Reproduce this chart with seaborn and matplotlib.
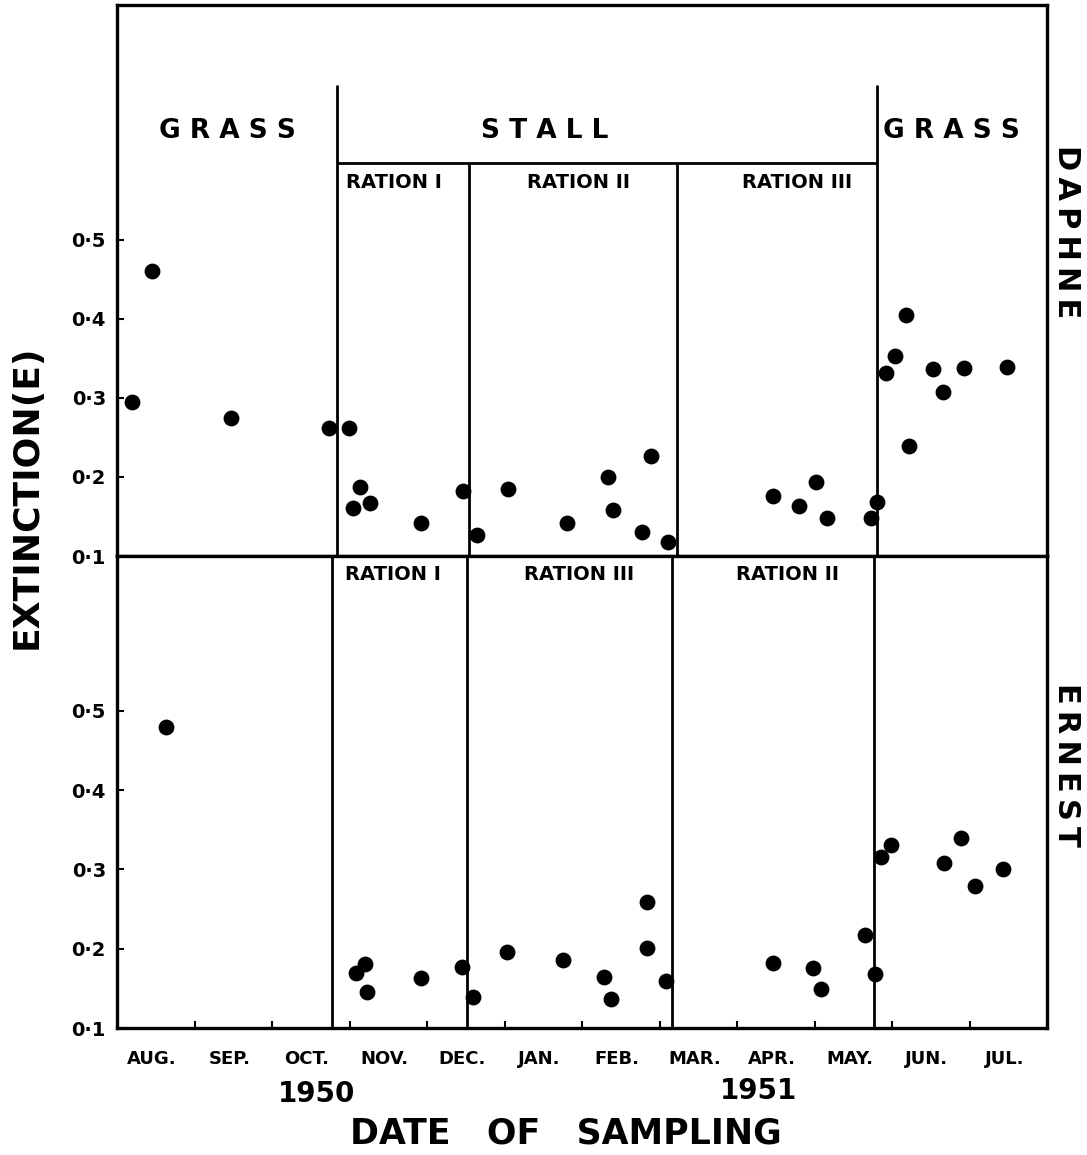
import matplotlib
matplotlib.use("Agg")
import matplotlib.pyplot as plt
import seaborn as sns
import pandas as pd

# Sampling dates in months after 1 Aug 1950, extinction values (E)
daphne_month = [0.19, 0.45, 1.47, 2.73,
                2.99, 3.04, 3.14, 3.27, 3.92, 4.46,
                4.64, 5.05, 5.81, 6.33, 6.40, 6.77, 6.89, 7.11,
                8.47, 8.80, 9.02, 9.16, 9.73, 9.81,
                9.92, 10.04, 10.18, 10.22, 10.53, 10.66, 10.93, 11.49]
daphne_ext = [0.295, 0.461, 0.275, 0.262,
              0.262, 0.161, 0.187, 0.167, 0.142, 0.182,
              0.127, 0.185, 0.142, 0.200, 0.158, 0.130, 0.227, 0.118,
              0.176, 0.163, 0.194, 0.148, 0.148, 0.168,
              0.332, 0.353, 0.405, 0.239, 0.337, 0.308, 0.338, 0.339]

ernest_month = [0.63,
                3.08, 3.20, 3.23, 3.92, 4.45,
                4.59, 5.03, 5.76, 6.29, 6.38, 6.84, 6.84, 7.09,
                8.47, 8.98, 9.08, 9.65, 9.78,
                9.86, 9.99, 10.67, 10.89, 11.07, 11.43]
ernest_ext = [0.479,
              0.169, 0.181, 0.145, 0.163, 0.177,
              0.139, 0.196, 0.186, 0.164, 0.137, 0.259, 0.201, 0.159,
              0.182, 0.176, 0.149, 0.217, 0.168,
              0.316, 0.331, 0.308, 0.340, 0.279, 0.301]

month_labels = ["AUG.", "SEP.", "OCT.", "NOV.", "DEC.", "JAN.",
                "FEB.", "MAR.", "APR.", "MAY.", "JUN.", "JUL."]
ytick_values = [0.1, 0.2, 0.3, 0.4, 0.5]
ytick_labels = ["0\u00b71", "0\u00b72", "0\u00b73", "0\u00b74", "0\u00b75"]

# feeding period boundaries (months after 1 Aug 1950)
daphne_changes = [2.835, 4.536, 7.23, 9.807]
ernest_changes = [2.78, 4.51, 7.16, 9.77]
daphne_rations = ["RATION I", "RATION II", "RATION III"]
ernest_rations = ["RATION I", "RATION III", "RATION II"]

sns.set_style("ticks")
plt.rcParams["font.family"] = ["DejaVu Sans"]
plt.rcParams["font.weight"] = "bold"
for key in ("text.color", "axes.labelcolor", "xtick.color", "ytick.color", "axes.edgecolor"):
    plt.rcParams[key] = "black"

W, H = 1087, 1155
fig = plt.figure(figsize=(W / 100, H / 100), dpi=100)

def fx(px):
    return px / W

def fy(py):
    return 1 - py / H

left, right = 117, 1047
ax_top = fig.add_axes([fx(left), fy(556), fx(right - left), fy(5) - fy(556)])
ax_bot = fig.add_axes([fx(left), fy(1028), fx(right - left), fy(556) - fy(1028)])

top_df = pd.DataFrame({"month": daphne_month, "ext": daphne_ext})
bot_df = pd.DataFrame({"month": ernest_month, "ext": ernest_ext})

for ax, df in ((ax_top, top_df), (ax_bot, bot_df)):
    sns.scatterplot(data=df, x="month", y="ext", ax=ax, color="black",
                    s=130, edgecolor="black", linewidth=0, zorder=5, clip_on=False)
    ax.set_xlim(0, 12)
    for sp in ax.spines.values():
        sp.set_linewidth(2.4)
        sp.set_color("black")
    ax.set_xlabel("")
    ax.set_ylabel("")
    ax.set_yticks(ytick_values)
    ax.set_yticklabels(ytick_labels, fontsize=14, fontweight="bold")
    ax.tick_params(axis="y", direction="in", length=5, width=1.5, pad=8)

ax_top.set_ylim(0.1, 0.797)
ax_bot.set_ylim(0.1, 0.695)

# x axis: ticks at month boundaries, names centred in each month
for ax in (ax_top, ax_bot):
    ax.set_xticks(range(1, 12))
    ax.set_xticklabels([])
    ax.tick_params(axis="x", direction="in", length=5, width=1.5)
ax_top.tick_params(axis="x", length=0)
ax_bot.set_xticks([m + 0.45 for m in range(12)], minor=True)
ax_bot.set_xticklabels(month_labels, minor=True, fontsize=13, fontweight="bold")
ax_bot.tick_params(axis="x", which="minor", length=0, pad=16)

# DAPHNE panel: feeding headers and divisions
lw = 2.0
c0, c1, c2, c3 = daphne_changes
ax_top.vlines([c0, c3], 0.1, 0.696, color="black", lw=lw)
ax_top.vlines([c1, c2], 0.1, 0.597, color="black", lw=lw)
ax_top.hlines(0.597, c0, c3, color="black", lw=lw)
ax_top.text(1.43, 0.637, "G R A S S", ha="center", va="center", fontsize=19, fontweight="bold")
ax_top.text(5.52, 0.637, "S T A L L", ha="center", va="center", fontsize=19, fontweight="bold")
ax_top.text(10.77, 0.637, "G R A S S", ha="center", va="center", fontsize=19, fontweight="bold")
for xc, lab in zip([3.57, 5.95, 8.77], daphne_rations):
    ax_top.text(xc, 0.573, lab, ha="center", va="center", fontsize=14, fontweight="bold")

# ERNEST panel divisions
ax_bot.vlines(ernest_changes, 0.1, 0.695, color="black", lw=lw)
for xc, lab in zip([3.56, 5.96, 8.65], ernest_rations):
    ax_bot.text(xc, 0.672, lab, ha="center", va="center", fontsize=14, fontweight="bold")

# side and axis titles
ts = "\u2009"
fig.text(fx(1066), fy(232), ts.join("DAPHNE"), rotation=-90, ha="center", va="center",
         fontsize=22, fontweight="bold")
fig.text(fx(1066), fy(765), ts.join("ERNEST"), rotation=-90, ha="center", va="center",
         fontsize=22, fontweight="bold")
fig.text(fx(27), fy(497), "EXTINCTION(E)", rotation=90, ha="center", va="center",
         fontsize=26, fontweight="bold")
fig.text(fx(317), fy(1094), "1950", ha="center", va="center", fontsize=20, fontweight="bold")
fig.text(fx(758), fy(1091), "1951", ha="center", va="center", fontsize=20, fontweight="bold")
fig.text(fx(566), fy(1134), "DATE   OF   SAMPLING", ha="center", va="center",
         fontsize=25, fontweight="bold")

fig.savefig("out.png", dpi=100, facecolor="white")
